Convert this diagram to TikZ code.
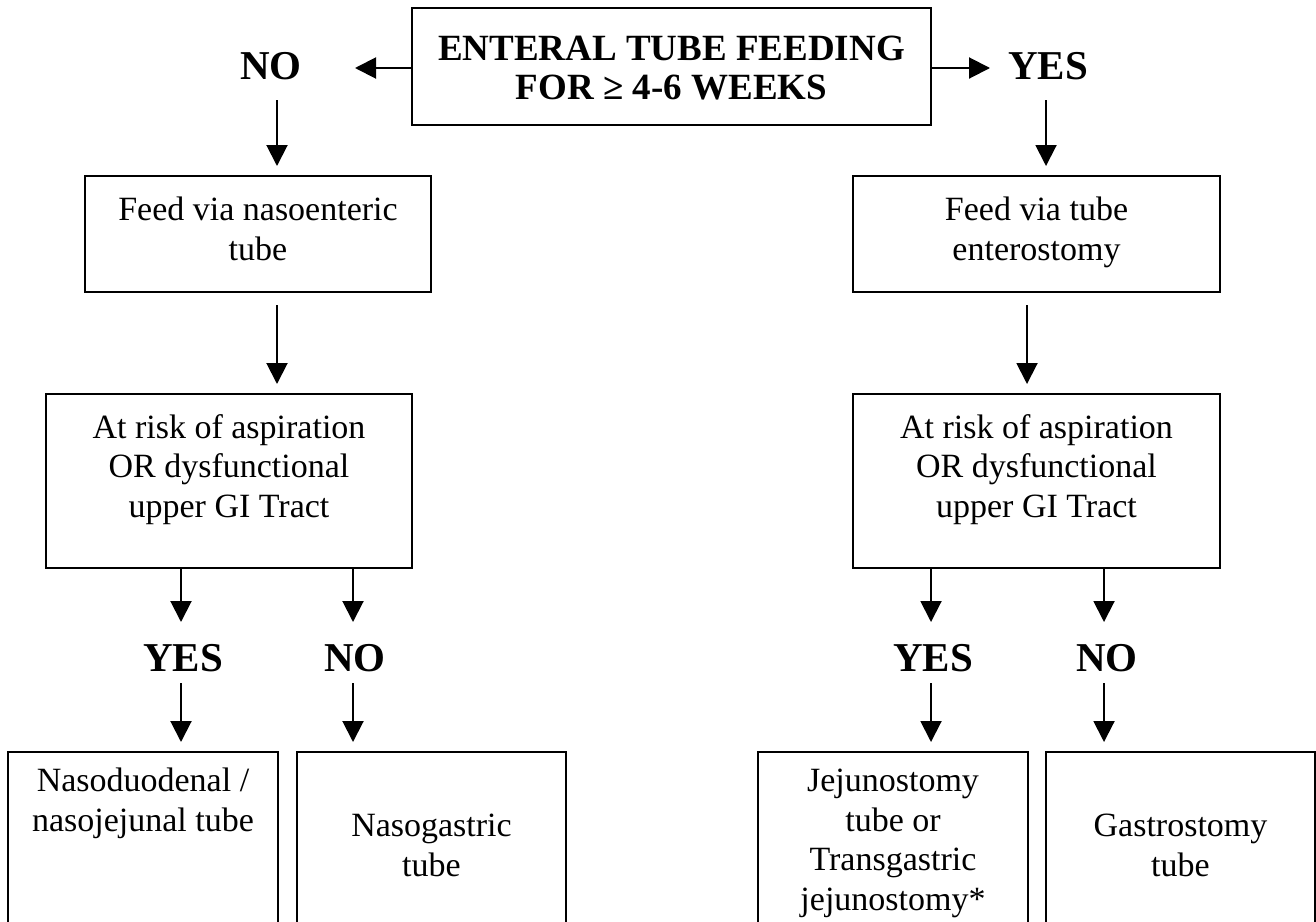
\documentclass[tikz,border=0pt]{standalone}
\usepackage{fontspec}
\setmainfont{Liberation Serif}
\usetikzlibrary{arrows.meta}
\tikzset{
  box/.style={draw, line width=2pt, inner sep=0pt},
  txt/.style={align=center, inner sep=0pt, font=\fontsize{34}{39.5}\selectfont},
  bigtxt/.style={align=center, inner sep=0pt, font=\fontsize{37}{39}\selectfont\bfseries},
  lbl/.style={inner sep=0pt, font=\fontsize{41}{44}\selectfont\bfseries},
  arr/.style={line width=2pt, -{Triangle[length=21pt,width=21pt]}},
  gap/.style={shorten >=9pt},
}
\newcommand{\boxat}[5]{% name, x1, y1, x2, y2
  \node[box, minimum width={#4-#2}, minimum height={#5-#3}] (#1) at ({(#2+#4)/2},{(#3+#5)/2}) {};}
\begin{document}
\begin{tikzpicture}[x=1pt,y=-1pt]
\useasboundingbox (0,0) rectangle (1316,921);
\clip (0,0) rectangle (1316,921);
% top
\boxat{top}{412}{8}{931}{125}
\node[bigtxt] at ([yshift=-2pt]top.center) {ENTERAL TUBE FEEDING\\FOR ≥ 4-6 WEEKS};
\node[lbl] (no0) at (271,66) {NO};
\node[lbl] (yes0) at (1048,66) {YES};
\coordinate (nt) at (355,68);
\coordinate (yt) at (990,68);
\draw[arr] (top.west |- nt) -- (nt);
\draw[arr] (top.east |- yt) -- (yt);
% left column
\boxat{fl}{85}{176}{431}{292}
\node[txt, anchor=north] at ([yshift=-22pt]fl.north) {Feed via nasoenteric\\tube};
\coordinate (n0s) at (277,100);
\draw[arr, gap] (n0s) -- (fl.north -| n0s);
\boxat{rl}{46}{394}{412}{568}
\node[txt, anchor=north] at ([yshift=-21pt]rl.north) {At risk of aspiration\\OR dysfunctional\\upper GI Tract};
\coordinate (a1) at (277,305);
\draw[arr, gap] (a1) -- (rl.north -| a1);
\coordinate (ly) at (181,622);
\coordinate (ln) at (353,622);
\node[lbl] (yesl) at (183,658) {YES};
\node[lbl] (nol) at (355,658) {NO};
\draw[arr] (rl.south -| ly) -- (ly);
\draw[arr] (rl.south -| ln) -- (ln);
\boxat{bl1}{8}{752}{278}{1000}
\boxat{bl2}{297}{752}{566}{1000}
\node[txt, anchor=north] at ([yshift=-17pt]bl1.north) {Nasoduodenal /\\nasojejunal tube};
\node[txt, anchor=north] at ([yshift=-63pt]bl2.north) {Nasogastric\\tube};
\draw[arr, gap] (181,683) -- (bl1.north -| ly);
\draw[arr, gap] (353,683) -- (bl2.north -| ln);
% right column
\boxat{fr}{853}{176}{1220}{292}
\node[txt, anchor=north] at ([yshift=-22pt]fr.north) {Feed via tube\\enterostomy};
\coordinate (y0s) at (1046,100);
\draw[arr, gap] (y0s) -- (fr.north -| y0s);
\boxat{rr}{853}{394}{1220}{568}
\node[txt, anchor=north] at ([yshift=-21pt]rr.north) {At risk of aspiration\\OR dysfunctional\\upper GI Tract};
\coordinate (a2) at (1027,305);
\draw[arr, gap] (a2) -- (rr.north -| a2);
\coordinate (ry) at (931,622);
\coordinate (rn) at (1104,622);
\node[lbl] (yesr) at (933,658) {YES};
\node[lbl] (nor) at (1107,658) {NO};
\draw[arr] (rr.south -| ry) -- (ry);
\draw[arr] (rr.south -| rn) -- (rn);
\boxat{br1}{758}{752}{1028}{1000}
\boxat{br2}{1046}{752}{1315}{1000}
\node[txt, anchor=north] at ([yshift=-18pt]br1.north) {Jejunostomy\\tube or\\Transgastric\\jejunostomy*};
\node[txt, anchor=north] at ([yshift=-63pt]br2.north) {Gastrostomy\\tube};
\draw[arr, gap] (931,683) -- (br1.north -| ry);
\draw[arr, gap] (1104,683) -- (br2.north -| rn);
\end{tikzpicture}
\end{document}
